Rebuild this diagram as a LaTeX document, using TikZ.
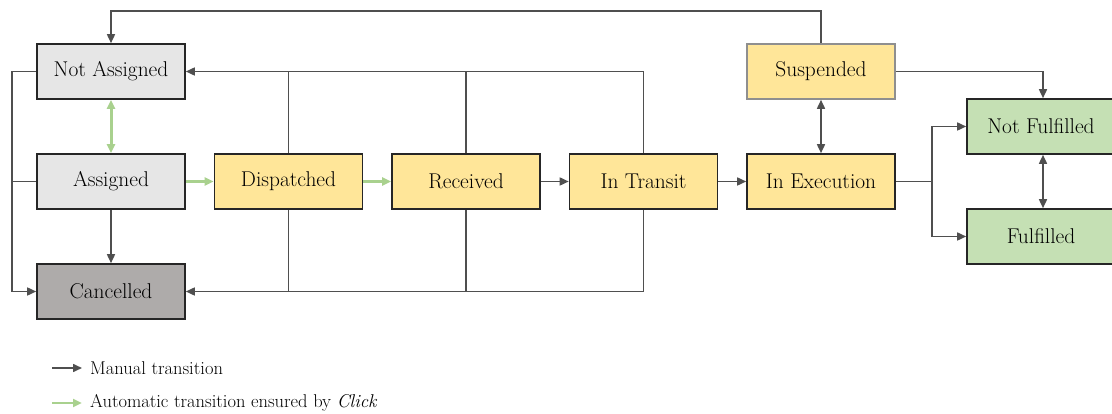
\documentclass[tikz,border=0pt]{standalone}
\usepackage{fontspec}
\usetikzlibrary{arrows.meta,calc}

\definecolor{linegray}{HTML}{4F4F4F}
\definecolor{boxgray}{HTML}{E6E6E6}
\definecolor{darkgray}{HTML}{AEABAA}
\definecolor{stateyellow}{HTML}{FFE699}
\definecolor{stategreen}{HTML}{C5E0B4}
\definecolor{autogreen}{HTML}{A9D18E}
\definecolor{softborder}{HTML}{8F8F8F}

\tikzset{
  state/.style={draw=black!85, line width=1.6pt, minimum width=148pt, minimum height=55pt,
    inner sep=0pt, font=\fontsize{21.4}{25}\selectfont, text=black},
  grey/.style={state, fill=boxgray},
  cancel/.style={state, fill=darkgray},
  yellow/.style={state, fill=stateyellow},
  green/.style={state, fill=stategreen},
  conn/.style={draw=linegray, line width=1.6pt},
  manual/.style={conn, -{Triangle[length=9pt,width=8pt]}},
  manualboth/.style={conn, {Triangle[length=9pt,width=8pt]}-{Triangle[length=9pt,width=8pt]}},
  auto/.style={draw=autogreen, line width=3pt, -{Triangle[length=9pt,width=8pt]}},
  autoboth/.style={draw=autogreen, line width=3pt, {Triangle[length=9pt,width=8pt]}-{Triangle[length=9pt,width=8pt]}},
  legendtext/.style={anchor=west, inner sep=0pt, font=\fontsize{18.5}{22}\selectfont, text=black}
}

\begin{document}
\begin{tikzpicture}[x=1pt,y=-1pt]
\useasboundingbox (0,0) rectangle (1112,414);

% states
\node[grey]   (na)  at (111,71.5)   {Not Assigned};
\node[grey]   (as)  at (111,181.5)  {Assigned};
\node[cancel] (can) at (111,291.5)  {Cancelled};
\node[yellow] (dis) at (288.5,181.5){Dispatched};
\node[yellow] (rec) at (466,181.5)  {Received};
\node[yellow] (tr)  at (643.5,181.5){In Transit};
\node[yellow] (ex)  at (821,181.5)  {In Execution};
\node[yellow, draw=softborder] (sus) at (821,71.5) {Suspended};
\node[green]  (nf)  at (1041,126.5) {Not Fulfilled};
\node[green]  (ff)  at (1041,236.5) {Fulfilled};

% automatic transitions
\draw[autoboth] (na.south) -- (as.north);
\draw[auto] (as.east) -- (dis.west);
\draw[auto] (dis.east) -- (rec.west);

% manual transitions along the main line
\draw[manual] (as.south) -- (can.north);
\draw[manual] (rec.east) -- (tr.west);
\draw[manual] (tr.east) -- (ex.west);
\draw[manualboth] (sus.south) -- (ex.north);
\draw[manualboth] (nf.south -| 1043,0) -- (ff.north -| 1043,0);

% back to Not Assigned
\draw[manual] (sus.north) -- ++(0,-32) -| (na.north);
\draw[manual] (tr.north) |- (na.east);
\draw[conn] (dis.north) -- (dis.north |- na.east);
\draw[conn] (rec.north) -- (rec.north |- na.east);

% to Cancelled
\draw[manual] (tr.south) |- (can.east);
\draw[conn] (dis.south) -- (dis.south |- can.east);
\draw[conn] (rec.south) -- (rec.south |- can.east);
\draw[manual] (na.west) -- ++(-24,0) |- (can.west);
\draw[conn] (as.west) -- ++(-24,0);

% outcomes
\draw[manual] (sus.east) -| (nf.north -| 1043,0);
\draw[conn] (ex.east) -- ++(36,0) coordinate (split);
\draw[manual] (split) |- (nf.west);
\draw[manual] (split) |- (ff.west);

% legend
\coordinate (m1) at (52,368);
\coordinate (m2) at (82,368);
\coordinate (a1) at (52,403);
\coordinate (a2) at (82,403);
\draw[manual] (m1) -- (m2);
\draw[auto, line width=2.6pt] (a1) -- (a2);
\node[legendtext] (lm) at (90,368) {Manual transition};
\node[legendtext] (la) at (90,403) {Automatic transition ensured by \textit{Click}};
\end{tikzpicture}
\end{document}
